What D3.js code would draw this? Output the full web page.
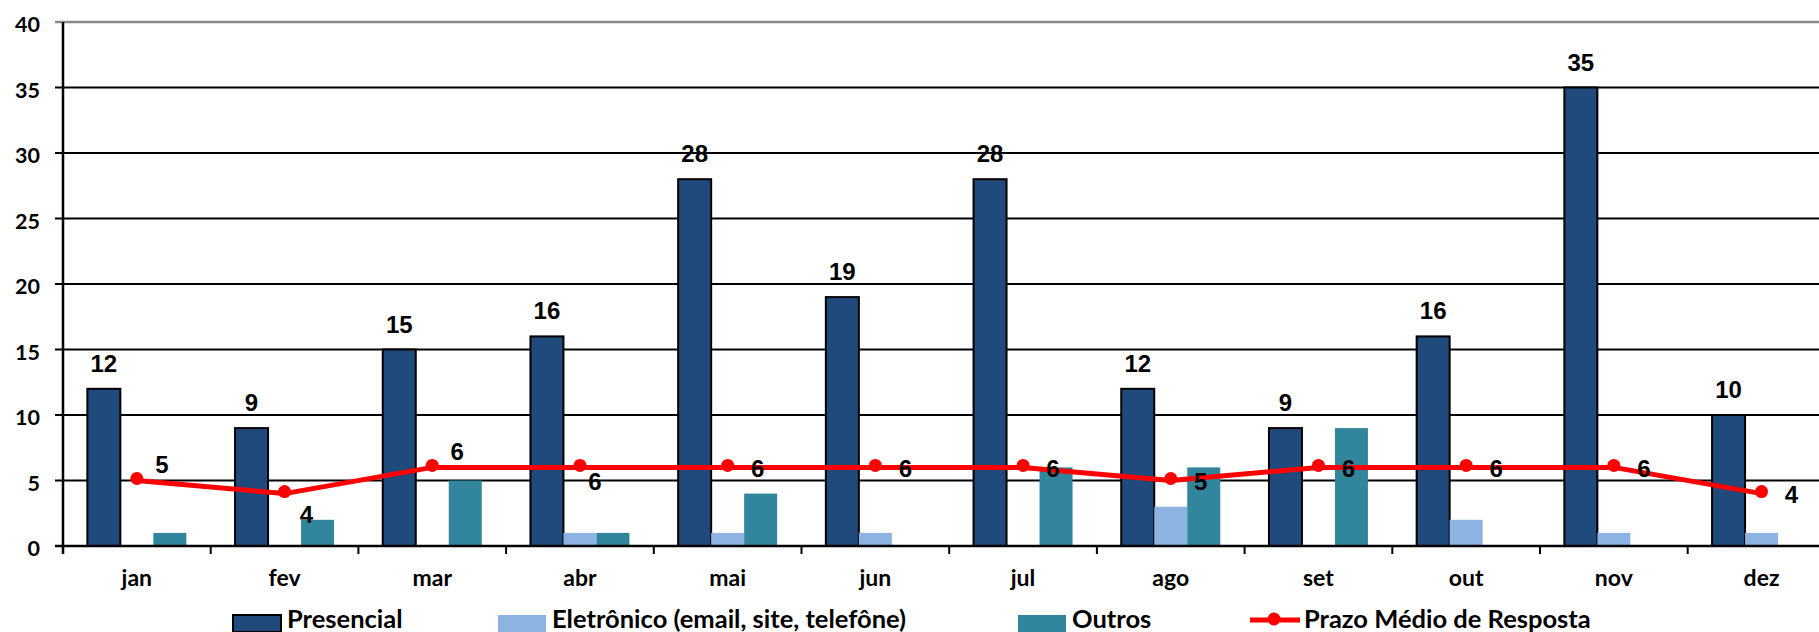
<!DOCTYPE html>
<html lang="pt">
    <head>
        <meta charset="utf-8">
        <title>Atendimentos por mês</title>
        <script src="https://d3js.org/d3.v7.min.js"></script>
        <style>
            body { margin: 0; background: #fff; }
            svg { display: block; }
            .axis-label { font-family: Lato, "Open Sans", sans-serif; font-weight: bold; fill: #000; }
            .data-label { font-family: "Liberation Sans", Arial, sans-serif; font-weight: bold; fill: #000; }
        </style>
    </head>
    <body>
        <script type="text/javascript">
            var width = 1819;
            var height = 632;

            // data
            var months = ["jan", "fev", "mar", "abr", "mai", "jun", "jul", "ago", "set", "out", "nov", "dez"];
            var presencial = [12, 9, 15, 16, 28, 19, 28, 12, 9, 16, 35, 10];
            var eletronico = [0, 0, 0, 1, 1, 1, 0, 3, 0, 2, 1, 1];
            var outros = [1, 2, 5, 1, 4, 0, 6, 6, 9, 0, 0, 0];
            var prazo = [5, 4, 6, 6, 6, 6, 6, 5, 6, 6, 6, 4];
            // where excel put the line labels
            var prazoLabelPos = ["ur", "dr", "ur", "d", "r", "r", "r", "r", "r", "r", "r", "r"];
            var yTicks = [0, 5, 10, 15, 20, 25, 30, 35, 40];

            var seriesNames = ["Presencial", "Eletrônico (email, site, telefône)", "Outros"];
            var seriesColors = ["#214a7c", "#8db3e2", "#31859c"];
            var seriesStroke = ["#000", "none", "none"];
            var lineName = "Prazo Médio de Resposta";

            var plotLeft = 63, plotBottom = 546, plotTop = 22;
            var step = 147.7;

            var svg = d3.select("body")
                .append("svg")
                .attr("width", width)
                .attr("height", height);

            var x = d3.scaleBand()
                .domain(months)
                .range([plotLeft, plotLeft + step * months.length]);

            var xInner = d3.scaleBand()
                .domain([0, 1, 2])
                .range([0, x.bandwidth()])
                .paddingInner(0)
                .paddingOuter(0.738);

            var y = d3.scaleLinear()
                .domain([0, 40])
                .range([plotBottom, plotTop]);

            // gridlines
            svg.append("g")
                .selectAll("line")
                .data(yTicks.filter(function (d) { return d > 0; }))
                .enter()
                .append("line")
                .attr("x1", plotLeft - 8)
                .attr("x2", width)
                .attr("y1", function (d) { return y(d); })
                .attr("y2", function (d) { return y(d); })
                .attr("stroke", function (d) { return d == 40 ? "#8a8a8a" : "#000"; })
                .attr("stroke-width", function (d) { return d == 40 ? 2.5 : 2; });

            // y tick labels
            svg.append("g")
                .selectAll("text")
                .data(yTicks)
                .enter()
                .append("text")
                .attr("class", "axis-label")
                .attr("x", 40)
                .attr("y", function (d) { return y(d) + 2; })
                .attr("text-anchor", "end")
                .attr("dominant-baseline", "central")
                .attr("font-size", 21.5)
                .text(function (d) { return d; });

            var series = [presencial, eletronico, outros];

            // bars
            series.forEach(function (values, si) {
                svg.append("g")
                    .selectAll("rect")
                    .data(values.map(function (v, i) { return {m: months[i], v: v}; }).filter(function (d) { return d.v > 0; }))
                    .enter()
                    .append("rect")
                    .attr("x", function (d) { return x(d.m) + xInner(si); })
                    .attr("y", function (d) { return y(d.v); })
                    .attr("width", xInner.bandwidth())
                    .attr("height", function (d) { return plotBottom - y(d.v); })
                    .attr("fill", seriesColors[si])
                    .attr("stroke", seriesStroke[si])
                    .attr("stroke-width", 2);
            });

            // axes lines
            svg.append("line")
                .attr("x1", plotLeft).attr("x2", plotLeft)
                .attr("y1", plotTop).attr("y2", plotBottom + 8)
                .attr("stroke", "#000").attr("stroke-width", 2.5);
            svg.append("line")
                .attr("x1", plotLeft - 8).attr("x2", width)
                .attr("y1", plotBottom).attr("y2", plotBottom)
                .attr("stroke", "#000").attr("stroke-width", 2.5);

            // x ticks on band boundaries
            svg.append("g")
                .selectAll("line")
                .data(months)
                .enter()
                .append("line")
                .attr("x1", function (d) { return x(d) + x.bandwidth(); })
                .attr("x2", function (d) { return x(d) + x.bandwidth(); })
                .attr("y1", plotBottom)
                .attr("y2", plotBottom + 8)
                .attr("stroke", "#000")
                .attr("stroke-width", 2);

            // month labels
            svg.append("g")
                .selectAll("text")
                .data(months)
                .enter()
                .append("text")
                .attr("class", "axis-label")
                .attr("x", function (d) { return x(d) + x.bandwidth() / 2; })
                .attr("y", 586)
                .attr("text-anchor", "middle")
                .attr("font-size", 23)
                .text(function (d) { return d; });

            // presencial value labels
            svg.append("g")
                .selectAll("text")
                .data(presencial)
                .enter()
                .append("text")
                .attr("class", "data-label")
                .attr("x", function (d, i) { return x(months[i]) + xInner(0) + xInner.bandwidth() / 2; })
                .attr("y", function (d) { return y(d) - 17; })
                .attr("text-anchor", "middle")
                .attr("font-size", 24)
                .text(function (d) { return d; });

            // prazo line
            var cx = function (d, i) { return x(months[i]) + x.bandwidth() / 2; };
            var line = d3.line()
                .x(cx)
                .y(function (d) { return y(d); });

            svg.append("path")
                .datum(prazo)
                .attr("d", line)
                .attr("fill", "none")
                .attr("stroke", "#ff0000")
                .attr("stroke-width", 5)
                .attr("stroke-linejoin", "round");

            svg.append("g")
                .selectAll("circle")
                .data(prazo)
                .enter()
                .append("circle")
                .attr("cx", cx)
                .attr("cy", function (d) { return y(d) - 2; })
                .attr("r", 6.5)
                .attr("fill", "#ff0000");

            var labelOffset = {
                ur: [25, -16],
                dr: [22, 21],
                d: [15, 14],
                r: [30, 1]
            };
            svg.append("g")
                .selectAll("text")
                .data(prazo)
                .enter()
                .append("text")
                .attr("class", "data-label")
                .attr("x", function (d, i) { return cx(d, i) + labelOffset[prazoLabelPos[i]][0]; })
                .attr("y", function (d, i) { return y(d) + labelOffset[prazoLabelPos[i]][1]; })
                .attr("text-anchor", "middle")
                .attr("dominant-baseline", "central")
                .attr("font-size", 24)
                .text(function (d) { return d; });

            // legend
            var legendItems = [
                {name: seriesNames[0], kind: "bar", color: seriesColors[0], stroke: "#000", x: 233},
                {name: seriesNames[1], kind: "bar", color: seriesColors[1], stroke: "none", x: 498},
                {name: seriesNames[2], kind: "bar", color: seriesColors[2], stroke: "none", x: 1018},
                {name: lineName, kind: "line", color: "#ff0000", x: 1250}
            ];
            var legend = svg.append("g");
            legendItems.forEach(function (it) {
                if (it.kind == "bar") {
                    legend.append("rect")
                        .attr("x", it.x)
                        .attr("y", 615)
                        .attr("width", 48)
                        .attr("height", 17)
                        .attr("fill", it.color)
                        .attr("stroke", it.stroke)
                        .attr("stroke-width", 2);
                } else {
                    legend.append("line")
                        .attr("x1", it.x).attr("x2", it.x + 50)
                        .attr("y1", 620).attr("y2", 620)
                        .attr("stroke", it.color)
                        .attr("stroke-width", 5);
                    legend.append("circle")
                        .attr("cx", it.x + 24).attr("cy", 619)
                        .attr("r", 6.5)
                        .attr("fill", it.color);
                }
                legend.append("text")
                    .attr("class", "axis-label")
                    .attr("x", it.x + 54)
                    .attr("y", 628)
                    .attr("font-size", 25.5)
                    .text(it.name);
            });
        </script>
    </body>
</html>
